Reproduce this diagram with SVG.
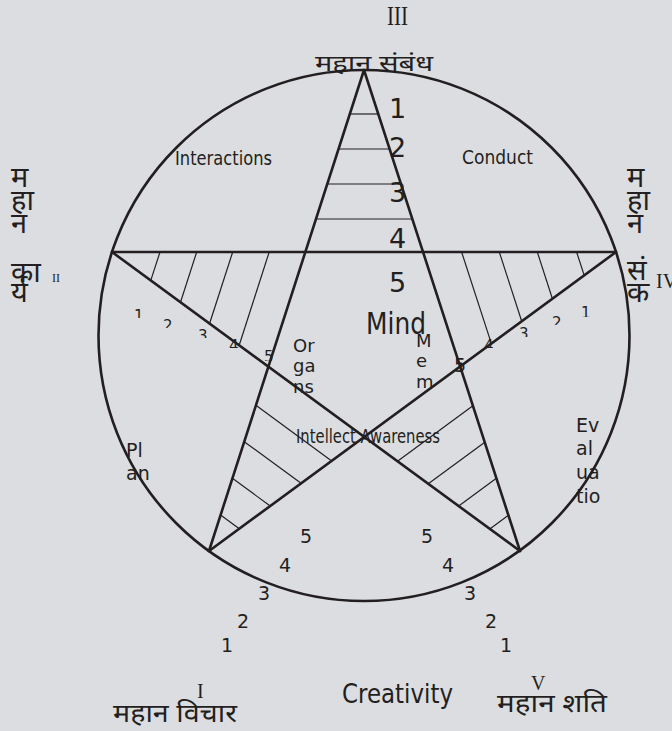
<svg xmlns="http://www.w3.org/2000/svg" width="672" height="731" viewBox="0 0 672 731">
<style>
.bg{fill:#dcdde0}
.ln{stroke:#231f20;stroke-width:2.6;fill:none;stroke-linecap:round}
.ht{stroke:#231f20;stroke-width:1.2;fill:none}
.t{font-family:"DejaVu Sans","Liberation Sans",sans-serif;fill:#231f20}
.dv{font-family:"Noto Sans","DejaVu Sans",sans-serif;fill:#231f20}
.rm{font-family:"Liberation Serif",serif;fill:#231f20}
</style>
<defs>
<clipPath id="cl">
<rect x="130" y="300" width="20" height="18"/>
<rect x="158" y="308" width="20" height="20"/>
<rect x="193" y="318" width="20" height="20"/>
<rect x="225" y="328" width="20" height="20"/>
<rect x="260" y="340" width="20" height="21"/>
<rect x="578" y="296" width="20" height="21"/>
<rect x="548" y="305" width="20" height="20"/>
<rect x="515" y="316" width="20" height="21"/>
<rect x="480" y="328" width="20" height="20"/>
</clipPath>
</defs>
<rect class="bg" x="0" y="0" width="672" height="731"/>
<g id="circle"><circle class="ln" cx="364" cy="335.5" r="265.5"/></g>
<g id="connectors">
<line class="ln" x1="364" y1="70" x2="209" y2="551"/>
<line class="ln" x1="364" y1="70" x2="520" y2="551"/>
<line class="ln" x1="112" y1="252" x2="616" y2="252"/>
<line class="ln" x1="112" y1="252" x2="520" y2="551"/>
<line class="ln" x1="616" y1="252" x2="209" y2="551"/>
</g>
<g id="hatching">
<line class="ht" x1="349.8" y1="114" x2="378.3" y2="114"/>
<line class="ht" x1="338.5" y1="149" x2="389.6" y2="149"/>
<line class="ht" x1="327.3" y1="184" x2="401" y2="184"/>
<line class="ht" x1="316" y1="219" x2="412.3" y2="219"/>
<line class="ht" x1="160" y1="252" x2="150.8" y2="280.4"/>
<line class="ht" x1="196.7" y1="252" x2="180.5" y2="302.2"/>
<line class="ht" x1="232.7" y1="252" x2="209.6" y2="323.5"/>
<line class="ht" x1="269.2" y1="252" x2="239.2" y2="345.2"/>
<line class="ht" x1="576.6" y1="252" x2="584.2" y2="275.4"/>
<line class="ht" x1="537.3" y1="252" x2="552.4" y2="298.7"/>
<line class="ht" x1="499.3" y1="252" x2="521.7" y2="321.3"/>
<line class="ht" x1="461.6" y1="252" x2="491.4" y2="343.6"/>
<line class="ht" x1="220.6" y1="515" x2="239.3" y2="528.8"/>
<line class="ht" x1="232.4" y1="478.3" x2="270.2" y2="506"/>
<line class="ht" x1="244.2" y1="441.7" x2="301.1" y2="483.3"/>
<line class="ht" x1="255.9" y1="405.3" x2="331.7" y2="460.9"/>
<line class="ht" x1="508.4" y1="515.2" x2="489.8" y2="528.9"/>
<line class="ht" x1="496.4" y1="478.3" x2="458.7" y2="506"/>
<line class="ht" x1="484.8" y1="442.3" x2="428.3" y2="483.8"/>
<line class="ht" x1="472.9" y1="405.8" x2="397.5" y2="461.2"/>
</g>
<g id="top-scale" class="t" font-size="27">
<text x="389" y="118">1</text>
<text x="389" y="157">2</text>
<text x="389" y="202">3</text>
<text x="389" y="248">4</text>
<text x="389" y="292">5</text>
</g>
<g id="side-scales" class="t" font-size="15" clip-path="url(#cl)">
<text x="134" y="321">1</text>
<text x="163" y="331">2</text>
<text x="198" y="341">3</text>
<text x="229" y="351">4</text>
<text x="264" y="362">5</text>
<text x="581" y="318">1</text>
<text x="552" y="328">2</text>
<text x="519" y="339">3</text>
<text x="484" y="351">4</text>
</g>
<g id="right-five" class="t" font-size="19"><text x="454" y="372">5</text></g>
<g id="bottom-scales" class="t" font-size="19">
<text x="300" y="543">5</text>
<text x="279" y="572">4</text>
<text x="258" y="600">3</text>
<text x="237" y="628">2</text>
<text x="221" y="652">1</text>
<text x="421" y="543">5</text>
<text x="442" y="572">4</text>
<text x="464" y="600">3</text>
<text x="485" y="628">2</text>
<text x="500" y="652">1</text>
</g>
<g id="interactions"><text class="t" x="175" y="165" font-size="20" textLength="97" lengthAdjust="spacingAndGlyphs">Interactions</text></g>
<g id="conduct"><text class="t" x="462" y="164" font-size="20" textLength="71" lengthAdjust="spacingAndGlyphs">Conduct</text></g>
<g id="mind"><text class="t" x="366" y="334" font-size="30" textLength="60" lengthAdjust="spacingAndGlyphs">Mind</text></g>
<g id="organs" class="t" font-size="18">
<text x="293" y="352">Or</text>
<text x="293" y="372">ga</text>
<text x="293" y="393">ns</text>
</g>
<g id="memory" class="t" font-size="18">
<text x="416" y="347">M</text>
<text x="416" y="367">e</text>
<text x="416" y="388">m</text>
</g>
<g id="intellect-awareness"><text class="t" x="296" y="443" font-size="19" textLength="144" lengthAdjust="spacingAndGlyphs">Intellect Awareness</text></g>
<g id="plan" class="t" font-size="19">
<text x="126" y="457">Pl</text>
<text x="126" y="480">an</text>
</g>
<g id="evaluation" class="t" font-size="19">
<text x="576" y="432">Ev</text>
<text x="576" y="455">al</text>
<text x="576" y="479">ua</text>
<text x="576" y="503">tio</text>
</g>
<g id="creativity"><text class="t" x="342" y="703" font-size="27" textLength="111" lengthAdjust="spacingAndGlyphs">Creativity</text></g>
<g id="label-III">
<text class="rm" x="387" y="25" font-size="28" textLength="21" lengthAdjust="spacingAndGlyphs">III</text>
<text class="dv" x="315" y="71" font-size="23" textLength="118" lengthAdjust="spacingAndGlyphs">महान संबंध</text>
</g>
<g id="label-II">
<g class="dv" font-size="29">
<text x="11" y="187">म</text>
<text x="11" y="210">हा</text>
<text x="11" y="233">न</text>
<text x="11" y="282">का</text>
<text x="11" y="302">र्य</text>
</g>
<text class="rm" x="52" y="282" font-size="12">II</text>
</g>
<g id="label-IV">
<g class="dv" font-size="29">
<text x="627" y="187">म</text>
<text x="627" y="210">हा</text>
<text x="627" y="233">न</text>
<text x="627" y="280">सं</text>
<text x="627" y="302">क</text>
</g>
<text class="rm" x="656" y="288" font-size="20">IV</text>
</g>
<g id="label-I">
<text class="rm" x="197" y="698" font-size="20">I</text>
<text class="dv" x="113" y="722" font-size="25" textLength="124" lengthAdjust="spacingAndGlyphs">महान विचार</text>
</g>
<g id="label-V">
<text class="dv" x="497" y="712" font-size="25" textLength="110" lengthAdjust="spacingAndGlyphs">महान शति</text>
<text class="rm" x="531" y="690" font-size="20">V</text>
</g>
</svg>
